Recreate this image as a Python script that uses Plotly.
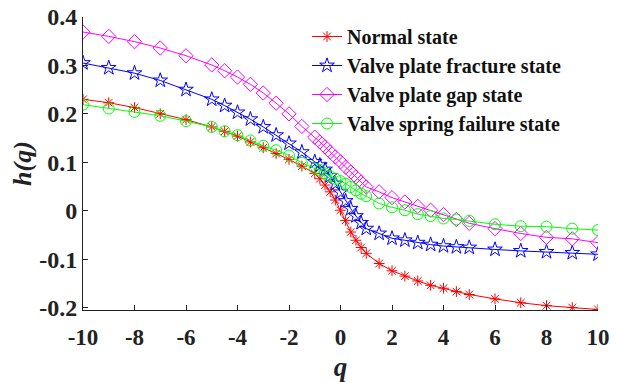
import plotly.graph_objects as go

q = [-10, -9, -8, -7, -6, -5, -4.5, -4, -3.5, -3, -2.5, -2, -1.5,
     -1, -0.8, -0.6, -0.4, -0.2, 0, 0.2, 0.4, 0.6, 0.8, 1,
     1.5, 2, 2.5, 3, 3.5, 4, 4.5, 5, 6, 7, 8, 9, 10]

normal = [0.230, 0.223, 0.213, 0.200, 0.188, 0.173, 0.164, 0.154, 0.142, 0.130, 0.118, 0.106, 0.092,
          0.077, 0.066, 0.053, 0.039, 0.022, 0.001, -0.020, -0.044, -0.061, -0.076, -0.088,
          -0.109, -0.124, -0.135, -0.145, -0.154, -0.160, -0.167, -0.173, -0.182, -0.190, -0.196, -0.200, -0.204]

fracture = [0.305, 0.295, 0.284, 0.269, 0.250, 0.230, 0.217, 0.203, 0.189, 0.173, 0.156, 0.139, 0.121,
            0.101, 0.094, 0.085, 0.072, 0.056, 0.038, 0.020, 0.004, -0.011, -0.025, -0.037,
            -0.047, -0.057, -0.061, -0.066, -0.070, -0.073, -0.075, -0.076, -0.080, -0.083, -0.085, -0.087, -0.090]

gap = [0.369, 0.360, 0.349, 0.336, 0.320, 0.301, 0.289, 0.276, 0.261, 0.243, 0.222, 0.200, 0.174,
       0.152, 0.142, 0.132, 0.121, 0.111, 0.101, 0.090, 0.080, 0.070, 0.059, 0.049,
       0.039, 0.027, 0.018, 0.009, 0.001, -0.008, -0.018, -0.026, -0.037, -0.047, -0.055, -0.058, -0.066]

spring = [0.219, 0.211, 0.204, 0.196, 0.185, 0.173, 0.164, 0.156, 0.145, 0.134, 0.125, 0.114, 0.099,
          0.087, 0.084, 0.077, 0.071, 0.066, 0.061, 0.056, 0.049, 0.042, 0.035, 0.030,
          0.015, 0.007, 0.001, -0.007, -0.011, -0.016, -0.018, -0.021, -0.028, -0.032, -0.033, -0.037, -0.040]

names = ["Normal state", "Valve plate fracture state", "Valve plate gap state", "Valve spring failure state"]
series = [normal, fracture, gap, spring]
colors = ["#FF0000", "#0000FF", "#FF00FF", "#00FF00"]
symbols = ["asterisk-open", "star-open", "diamond-open", "circle-open"]
sizes = [9, 11, 11, 11]

yticks = [-0.2, -0.1, 0, 0.1, 0.2, 0.3, 0.4]
yticktext = ["-0.2", "-0.1", "0", "0.1", "0.2", "0.3", "0.4"]
xticks = [-10, -8, -6, -4, -2, 0, 2, 4, 6, 8, 10]
xticktext = ["-10", "-8", "-6", "-4", "-2", "0", "2", "4", "6", "8", "10"]

fig = go.Figure()
for n, s, c, sym, sz in zip(names, series, colors, symbols, sizes):
    fig.add_trace(go.Scatter(
        x=q, y=s, mode="lines+markers", name=n,
        line=dict(color=c, width=1),
        marker=dict(symbol=sym, size=sz, color=c, line=dict(color=c, width=1)),
    ))

font = "Liberation Serif"
fig.update_layout(
    width=619, height=382,
    margin=dict(l=83, r=21, t=17, b=72, autoexpand=False),
    paper_bgcolor="white", plot_bgcolor="white",
    font=dict(family=font, color="#222222"),
    showlegend=True,
    legend=dict(x=0.435, y=1.0, xanchor="left", yanchor="top",
                bgcolor="rgba(255,255,255,0)", borderwidth=0,
                font=dict(family=font, size=20, color="#111111", weight="bold"),
                tracegroupgap=0, itemwidth=30),
    xaxis=dict(range=[-10, 10], tickvals=xticks, ticktext=xticktext,
               automargin=False,
               showgrid=False, zeroline=False,
               showline=True, linecolor="#222222", linewidth=1,
               ticks="inside", ticklen=5, tickcolor="#222222",
               ticklabelstandoff=6,
               tickfont=dict(family=font, size=23, weight="bold", color="#222222"),
               title=dict(text="<b><i>q</i></b>", font=dict(family=font, size=27, color="#222222"), standoff=13)),
    yaxis=dict(range=[-0.205, 0.4], tickvals=yticks, ticktext=yticktext,
               automargin=False,
               showgrid=False, zeroline=False,
               showline=True, linecolor="#222222", linewidth=1,
               ticks="inside", ticklen=5, tickcolor="#222222",
               tickfont=dict(family=font, size=24, weight="bold", color="#222222"),
               title=dict(text="<b><i>h(q)</i></b>", font=dict(family=font, size=26, color="#222222"), standoff=0)),
)

fig.write_html("out.html")
